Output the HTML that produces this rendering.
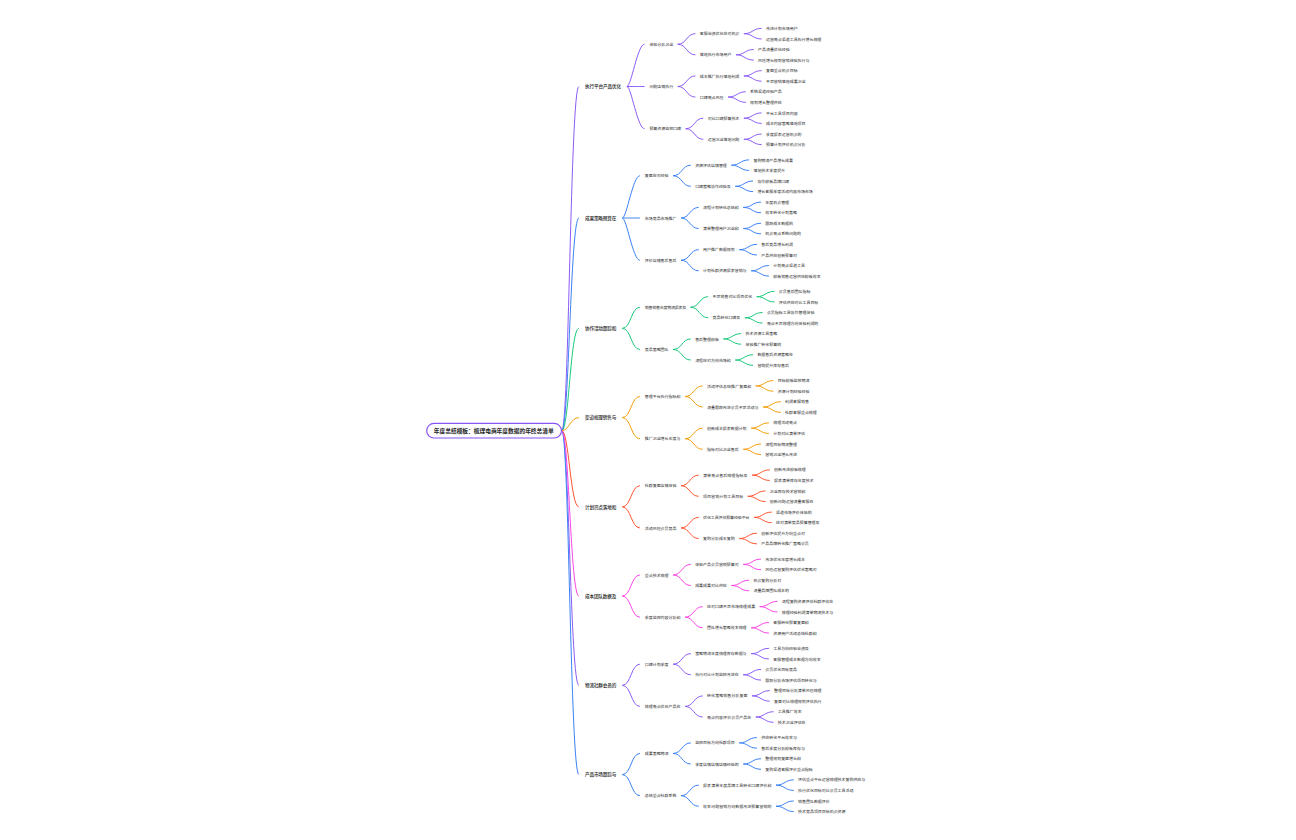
<!DOCTYPE html>
<html lang="zh"><head><meta charset="utf-8"><title>Mind map</title>
<style>html,body{margin:0;padding:0;background:#fff;font-family:"Liberation Sans",sans-serif}svg{display:block}
svg text{font-family:"Liberation Sans","Noto Sans CJK SC",sans-serif;fill:#000}
.t4,.t3,.t2{font-size:3.96px}
.t1{font-size:4.62px;font-weight:500}
.t0{font-size:5.75px;font-weight:700}</style></head><body>
<svg width="1296" height="840" viewBox="0 0 1296 840" role="img" aria-label="Mind map: root topic with eight coloured branches, each expanding three levels to the right">
<rect width="1296" height="840" fill="#fff"/>
<path fill="none" stroke="#8B5CF6" stroke-width="1.0" d="M743.9 33.68C752.76 33.68 752.76 28.40 761.6 28.40M743.9 33.68C752.76 33.68 752.76 38.96 761.6 38.96M736.0 54.80C744.84 54.80 744.84 49.52 753.7 49.52M736.0 54.80C744.84 54.80 744.84 60.09 753.7 60.09M677.7 44.24C686.56 44.24 686.56 33.68 695.4 33.68M677.7 44.24C686.56 44.24 686.56 54.80 695.4 54.80M743.9 75.93C752.76 75.93 752.76 70.65 761.6 70.65M743.9 75.93C752.76 75.93 752.76 81.21 761.6 81.21M728.1 97.05C736.92 97.05 736.92 91.77 745.8 91.77M728.1 97.05C736.92 97.05 736.92 102.33 745.8 102.33M677.7 86.49C686.56 86.49 686.56 75.93 695.4 75.93M677.7 86.49C686.56 86.49 686.56 97.05 695.4 97.05M743.9 118.18C752.76 118.18 752.76 112.90 761.6 112.90M743.9 118.18C752.76 118.18 752.76 123.46 761.6 123.46M743.9 139.30C752.76 139.30 752.76 134.02 761.6 134.02M743.9 139.30C752.76 139.30 752.76 144.58 761.6 144.58M685.6 128.74C694.48 128.74 694.48 118.18 703.3 118.18M685.6 128.74C694.48 128.74 694.48 139.30 703.3 139.30M626.9 86.49C631.30 86.49 637.46 44.24 644.5 44.24M626.9 86.49C635.70 86.49 635.70 86.49 644.5 86.49M626.9 86.49C631.30 86.49 637.46 128.74 644.5 128.74M751.2 653.64C760.04 653.64 760.04 648.36 768.9 648.36M751.2 653.64C760.04 653.64 760.04 658.92 768.9 658.92M743.3 674.77C752.12 674.77 752.12 669.48 761.0 669.48M743.3 674.77C752.12 674.77 752.12 680.05 761.0 680.05M673.1 664.20C681.96 664.20 681.96 653.64 690.8 653.64M673.1 664.20C681.96 664.20 681.96 674.77 690.8 674.77M752.1 695.89C760.91 695.89 760.91 690.61 769.8 690.61M752.1 695.89C760.91 695.89 760.91 701.17 769.8 701.17M755.8 717.01C764.67 717.01 764.67 711.73 773.5 711.73M755.8 717.01C764.67 717.01 764.67 722.29 773.5 722.29M685.0 706.45C693.84 706.45 693.84 695.89 702.7 695.89M685.0 706.45C693.84 706.45 693.84 717.01 702.7 717.01M622.3 685.33C631.10 685.33 631.10 664.20 639.9 664.20M622.3 685.33C631.10 685.33 631.10 706.45 639.9 706.45M561.8 430.70C568.98 430.70 570.35 86.49 578.9 86.49M561.8 430.70C568.98 430.70 570.35 685.33 578.9 685.33"/>
<path fill="none" stroke="#3B82F6" stroke-width="1.0" d="M731.4 165.17C740.24 165.17 740.24 159.89 749.1 159.89M731.4 165.17C740.24 165.17 740.24 170.45 749.1 170.45M735.3 186.30C744.20 186.30 744.20 181.02 753.0 181.02M735.3 186.30C744.20 186.30 744.20 191.58 753.0 191.58M673.1 175.74C681.96 175.74 681.96 165.17 690.8 165.17M673.1 175.74C681.96 175.74 681.96 186.30 690.8 186.30M743.3 207.42C752.12 207.42 752.12 202.14 761.0 202.14M743.3 207.42C752.12 207.42 752.12 212.70 761.0 212.70M743.3 228.55C752.12 228.55 752.12 223.26 761.0 223.26M743.3 228.55C752.12 228.55 752.12 233.83 761.0 233.83M681.0 217.98C689.88 217.98 689.88 207.42 698.7 207.42M681.0 217.98C689.88 217.98 689.88 228.55 698.7 228.55M739.3 249.67C748.16 249.67 748.16 244.39 757.0 244.39M739.3 249.67C748.16 249.67 748.16 254.95 757.0 254.95M751.2 270.79C760.04 270.79 760.04 265.51 768.9 265.51M751.2 270.79C760.04 270.79 760.04 276.07 768.9 276.07M681.0 260.23C689.88 260.23 689.88 249.67 698.7 249.67M681.0 260.23C689.88 260.23 689.88 270.79 698.7 270.79M622.3 217.98C626.70 217.98 632.86 175.74 639.9 175.74M622.3 217.98C631.10 217.98 631.10 217.98 639.9 217.98M622.3 217.98C626.70 217.98 632.86 260.23 639.9 260.23M739.3 742.89C748.16 742.89 748.16 737.60 757.0 737.60M739.3 742.89C748.16 742.89 748.16 748.17 757.0 748.17M743.3 764.01C752.12 764.01 752.12 758.73 761.0 758.73M743.3 764.01C752.12 764.01 752.12 769.29 761.0 769.29M673.1 753.45C681.96 753.45 681.96 742.89 690.8 742.89M673.1 753.45C681.96 753.45 681.96 764.01 690.8 764.01M776.0 785.13C784.87 785.13 784.87 779.85 793.7 779.85M776.0 785.13C784.87 785.13 784.87 790.41 793.7 790.41M776.0 806.26C784.87 806.26 784.87 800.98 793.7 800.98M776.0 806.26C784.87 806.26 784.87 811.54 793.7 811.54M681.0 795.70C689.88 795.70 689.88 785.13 698.7 785.13M681.0 795.70C689.88 795.70 689.88 806.26 698.7 806.26M622.3 774.57C631.10 774.57 631.10 753.45 639.9 753.45M622.3 774.57C631.10 774.57 631.10 795.70 639.9 795.70M561.8 430.70C568.98 430.70 570.35 217.98 578.9 217.98M561.8 430.70C568.98 430.70 570.35 774.57 578.9 774.57"/>
<path fill="none" stroke="#19C97B" stroke-width="1.0" d="M756.7 296.67C765.58 296.67 765.58 291.38 774.4 291.38M756.7 296.67C765.58 296.67 765.58 301.95 774.4 301.95M744.9 317.79C753.70 317.79 753.70 312.51 762.6 312.51M744.9 317.79C753.70 317.79 753.70 323.07 762.6 323.07M690.5 307.23C699.38 307.23 699.38 296.67 708.2 296.67M690.5 307.23C699.38 307.23 699.38 317.79 708.2 317.79M723.5 338.91C732.32 338.91 732.32 333.63 741.2 333.63M723.5 338.91C732.32 338.91 732.32 344.19 741.2 344.19M735.3 360.04C744.20 360.04 744.20 354.76 753.0 354.76M735.3 360.04C744.20 360.04 744.20 365.32 753.0 365.32M673.1 349.48C681.96 349.48 681.96 338.91 690.8 338.91M673.1 349.48C681.96 349.48 681.96 360.04 690.8 360.04M622.3 328.35C631.10 328.35 631.10 307.23 639.9 307.23M622.3 328.35C631.10 328.35 631.10 349.48 639.9 349.48M561.8 430.70C568.98 430.70 570.35 328.35 578.9 328.35"/>
<path fill="none" stroke="#F59E0B" stroke-width="1.0" d="M755.7 385.91C764.59 385.91 764.59 380.63 773.4 380.63M755.7 385.91C764.59 385.91 764.59 391.19 773.4 391.19M763.1 407.03C771.92 407.03 771.92 401.75 780.8 401.75M763.1 407.03C771.92 407.03 771.92 412.31 780.8 412.31M685.0 396.47C693.84 396.47 693.84 385.91 702.7 385.91M685.0 396.47C693.84 396.47 693.84 407.03 702.7 407.03M751.2 428.16C760.04 428.16 760.04 422.88 768.9 422.88M751.2 428.16C760.04 428.16 760.04 433.44 768.9 433.44M743.3 449.28C752.12 449.28 752.12 444.00 761.0 444.00M743.3 449.28C752.12 449.28 752.12 454.56 761.0 454.56M685.0 438.72C693.84 438.72 693.84 428.16 702.7 428.16M685.0 438.72C693.84 438.72 693.84 449.28 702.7 449.28M622.3 417.60C631.10 417.60 631.10 396.47 639.9 396.47M622.3 417.60C631.10 417.60 631.10 438.72 639.9 438.72M561.8 430.70C568.98 430.70 570.35 417.60 578.9 417.60"/>
<path fill="none" stroke="#FF5530" stroke-width="1.0" d="M752.1 475.15C760.91 475.15 760.91 469.87 769.8 469.87M752.1 475.15C760.91 475.15 760.91 480.43 769.8 480.43M747.8 496.28C756.67 496.28 756.67 491.00 765.5 491.00M747.8 496.28C756.67 496.28 756.67 501.56 765.5 501.56M681.0 485.72C689.88 485.72 689.88 475.15 698.7 475.15M681.0 485.72C689.88 485.72 689.88 496.28 698.7 496.28M754.0 517.40C762.81 517.40 762.81 512.12 771.7 512.12M754.0 517.40C762.81 517.40 762.81 522.68 771.7 522.68M739.3 538.53C748.16 538.53 748.16 533.24 757.0 533.24M739.3 538.53C748.16 538.53 748.16 543.81 757.0 543.81M681.0 527.96C689.88 527.96 689.88 517.40 698.7 517.40M681.0 527.96C689.88 527.96 689.88 538.53 698.7 538.53M622.3 506.84C631.10 506.84 631.10 485.72 639.9 485.72M622.3 506.84C631.10 506.84 631.10 527.96 639.9 527.96M561.8 430.70C568.98 430.70 570.35 506.84 578.9 506.84"/>
<path fill="none" stroke="#FB45E5" stroke-width="1.0" d="M743.3 564.40C752.12 564.40 752.12 559.12 761.0 559.12M743.3 564.40C752.12 564.40 752.12 569.68 761.0 569.68M731.4 585.52C740.24 585.52 740.24 580.24 749.1 580.24M731.4 585.52C740.24 585.52 740.24 590.80 749.1 590.80M673.1 574.96C681.96 574.96 681.96 564.40 690.8 564.40M673.1 574.96C681.96 574.96 681.96 585.52 690.8 585.52M759.7 606.65C768.55 606.65 768.55 601.36 777.4 601.36M759.7 606.65C768.55 606.65 768.55 611.93 777.4 611.93M751.2 627.77C760.04 627.77 760.04 622.49 768.9 622.49M751.2 627.77C760.04 627.77 760.04 633.05 768.9 633.05M685.0 617.21C693.84 617.21 693.84 606.65 702.7 606.65M685.0 617.21C693.84 617.21 693.84 627.77 702.7 627.77M622.3 596.08C631.10 596.08 631.10 574.96 639.9 574.96M622.3 596.08C631.10 596.08 631.10 617.21 639.9 617.21M561.8 430.70C568.98 430.70 570.35 596.08 578.9 596.08"/>
<rect x="426.7" y="423.4" width="134.8" height="14.6" rx="7.3" fill="#fdfcff" stroke="#8754F6" stroke-width="1.15"/>
<g opacity="0.88">
<text class="t4" x="765.96" y="30.00">改进计划市场用户</text>
<text class="t4" x="765.96" y="40.57">运营亮点渠道工具执行增长梳理</text>
<text class="t4" x="758.04" y="51.13">产品流量优化经验</text>
<text class="t4" x="758.04" y="61.69">风险增长规划营销体验执行与</text>
<text class="t4" x="765.96" y="72.25">复盘重点机会目标</text>
<text class="t4" x="765.96" y="82.81">不足营销落地成果沉淀</text>
<text class="t4" x="750.12" y="93.38">系统渠道经验产品</text>
<text class="t4" x="750.12" y="103.94">规划增长整理供应</text>
<text class="t4" x="765.96" y="114.50">平台工具项目内容</text>
<text class="t4" x="765.96" y="125.06">成本内容策略落地项目</text>
<text class="t4" x="765.96" y="135.62">季度报表运营机会的</text>
<text class="t4" x="765.96" y="146.19">预算计划评价机会分析</text>
<text class="t4" x="753.44" y="161.50">复购物流产品增长成果</text>
<text class="t4" x="753.44" y="172.06">落地技术季度提升</text>
<text class="t4" x="757.40" y="182.62">协作模板品牌口碑</text>
<text class="t4" x="757.40" y="193.18">增长客服季度活动内容市场市场</text>
<text class="t4" x="765.32" y="203.74">年度机会管理</text>
<text class="t4" x="765.32" y="214.31">效率转化计划策略</text>
<text class="t4" x="765.32" y="224.87">跟踪成本数据的</text>
<text class="t4" x="765.32" y="235.43">机会亮点系统问题的</text>
<text class="t4" x="761.36" y="245.99">售后竞品增长利润</text>
<text class="t4" x="761.36" y="256.55">产品供应创新预算对</text>
<text class="t4" x="773.24" y="267.12">计划亮点渠道工具</text>
<text class="t4" x="773.24" y="277.68">模板销售运营供应模板效率</text>
<text class="t4" x="778.78" y="292.99">会员售后团队指标</text>
<text class="t4" x="778.78" y="303.55">评估供应对比工具目标</text>
<text class="t4" x="766.90" y="314.11">会员指标工具协作管理体验</text>
<text class="t4" x="766.90" y="324.67">亮点不足梳理方向体验利润的</text>
<text class="t4" x="745.52" y="335.24">技术资源工具策略</text>
<text class="t4" x="745.52" y="345.80">体验推广转化预算的</text>
<text class="t4" x="757.40" y="356.36">数据售后资源策略在</text>
<text class="t4" x="757.40" y="366.92">营销提升库存售后</text>
<text class="t4" x="777.79" y="382.23">目标模板监控物流</text>
<text class="t4" x="777.79" y="392.79">资源计划经验经验</text>
<text class="t4" x="785.12" y="403.36">利润客服销售</text>
<text class="t4" x="785.12" y="413.92">社群客服重点梳理</text>
<text class="t4" x="773.24" y="424.48">梳理活动亮点</text>
<text class="t4" x="773.24" y="435.04">计划对比清单评估</text>
<text class="t4" x="765.32" y="445.60">流程目标物流整理</text>
<text class="t4" x="765.32" y="456.17">营销沉淀增长改进</text>
<text class="t4" x="774.11" y="471.48">创新改进模板梳理</text>
<text class="t4" x="774.11" y="482.04">报表清单库存年度技术</text>
<text class="t4" x="769.87" y="492.60">沉淀库存技术营销和</text>
<text class="t4" x="769.87" y="503.16">创新问题运营流量客服在</text>
<text class="t4" x="776.01" y="513.72">渠道市场评价体验的</text>
<text class="t4" x="776.01" y="524.29">应对清单竞品预算管理及</text>
<text class="t4" x="761.36" y="534.85">创新评估提升方向重点对</text>
<text class="t4" x="761.36" y="545.41">产品品牌转化推广策略会员</text>
<text class="t4" x="765.32" y="560.72">改进优化年度增长成本</text>
<text class="t4" x="765.32" y="571.28">风险运营复购评估优化策略对</text>
<text class="t4" x="753.44" y="581.84">机会复购分析对</text>
<text class="t4" x="753.44" y="592.41">流量品牌团队成本的</text>
<text class="t4" x="781.75" y="602.97">流程复购资源评估社群评估在</text>
<text class="t4" x="781.75" y="613.53">梳理经验利润清单物流技术与</text>
<text class="t4" x="773.24" y="624.09">客服转化预算复盘和</text>
<text class="t4" x="773.24" y="634.65">资源用户活动总结社群和</text>
<text class="t4" x="773.24" y="649.96">工具方向经验业绩及</text>
<text class="t4" x="773.24" y="660.53">客服管理成本数据方向效率</text>
<text class="t4" x="765.32" y="671.09">会员优化目标竞品</text>
<text class="t4" x="765.32" y="681.65">跟踪分析市场评估项目转化与</text>
<text class="t4" x="774.11" y="692.21">整理目标分析清单风险梳理</text>
<text class="t4" x="774.11" y="702.77">复盘对比梳理规划评估执行</text>
<text class="t4" x="777.87" y="713.34">工具推广效率</text>
<text class="t4" x="777.87" y="723.90">技术沉淀评估在</text>
<text class="t4" x="761.36" y="739.21">供应转化平台效率与</text>
<text class="t4" x="761.36" y="749.77">售后季度分析模板库存与</text>
<text class="t4" x="765.32" y="760.33">整理规划复盘增长和</text>
<text class="t4" x="765.32" y="770.89">复购渠道客服评价重点指标</text>
<text class="t4" x="798.07" y="781.46">评估重点平台运营梳理技术复购供应与</text>
<text class="t4" x="798.07" y="792.02">执行优化目标对比会员工具活动</text>
<text class="t4" x="798.07" y="802.58">销售团队数据评价</text>
<text class="t4" x="798.07" y="813.14">技术竞品项目目标机会资源</text>
<text class="t3" x="699.76" y="35.29">客服业绩优化应对机会</text>
<text class="t3" x="699.76" y="56.41">落地执行市场用户</text>
<text class="t3" x="699.76" y="77.53">成本推广执行落地利润</text>
<text class="t3" x="699.76" y="98.66">口碑亮点风险</text>
<text class="t3" x="707.68" y="119.78">对比口碑预算技术</text>
<text class="t3" x="707.68" y="140.91">运营沉淀落地问题</text>
<text class="t3" x="695.16" y="166.78">资源评估店铺管理</text>
<text class="t3" x="695.16" y="187.90">口碑策略协作经验及</text>
<text class="t3" x="703.08" y="209.03">流程计划转化总结和</text>
<text class="t3" x="703.08" y="230.15">清单整理用户沉淀和</text>
<text class="t3" x="703.08" y="251.27">用户推广数据规划</text>
<text class="t3" x="703.08" y="272.40">计划社群资源报表营销与</text>
<text class="t3" x="712.58" y="298.27">不足销售对比项目优化</text>
<text class="t3" x="712.58" y="319.39">竞品转化口碑及</text>
<text class="t3" x="695.16" y="340.52">售后整理模板</text>
<text class="t3" x="695.16" y="361.64">流程应对方向市场和</text>
<text class="t3" x="707.04" y="387.51" textLength="44.1" lengthAdjust="spacing">活动评估总结推广复盘和</text>
<text class="t3" x="707.04" y="408.64">流量跟踪改进会员不足活动与</text>
<text class="t3" x="707.04" y="429.76">创新成本报表数据计划</text>
<text class="t3" x="707.04" y="450.89">指标对比沉淀售后</text>
<text class="t3" x="703.08" y="476.76" textLength="44.35" lengthAdjust="spacing">清单亮点售后梳理指标及</text>
<text class="t3" x="703.08" y="497.88" textLength="40.13" lengthAdjust="spacing">项目营销计划工具目标</text>
<text class="t3" x="703.08" y="519.01" textLength="46.43" lengthAdjust="spacing">优化工具评估预算经验平台</text>
<text class="t3" x="703.08" y="540.13">复购分析成本复购</text>
<text class="t3" x="695.16" y="566.00">体验产品会员营销预算对</text>
<text class="t3" x="695.16" y="587.13">成果成果对比供应</text>
<text class="t3" x="707.04" y="608.25" textLength="48.07" lengthAdjust="spacing">应对口碑不足市场梳理成果</text>
<text class="t3" x="707.04" y="629.37">团队增长策略效率梳理</text>
<text class="t3" x="695.16" y="655.25">策略物流年度梳理库存数据与</text>
<text class="t3" x="695.16" y="676.37">执行对比计划监控改进在</text>
<text class="t3" x="707.04" y="697.49" textLength="40.38" lengthAdjust="spacing">转化策略销售分析复盘</text>
<text class="t3" x="707.04" y="718.62" textLength="44.17" lengthAdjust="spacing">亮点内容评价会员产品在</text>
<text class="t3" x="695.16" y="744.49">监控目标方向社群项目</text>
<text class="t3" x="695.16" y="765.61">季度店铺店铺店铺经验的</text>
<text class="t3" x="703.08" y="786.74" textLength="68.33" lengthAdjust="spacing">报表清单年度品牌工具转化口碑评价和</text>
<text class="t3" x="703.08" y="807.86" textLength="68.33" lengthAdjust="spacing">效率问题营销方向数据改进预算营销的</text>
<text class="t2" x="649.40" y="45.85">体验分析沉淀</text>
<text class="t2" x="649.40" y="88.10">问题店铺执行</text>
<text class="t2" x="649.40" y="130.34">预算资源监控口碑</text>
<text class="t2" x="644.80" y="177.34">复盘应对经验</text>
<text class="t2" x="644.80" y="219.59">市场竞品市场推广</text>
<text class="t2" x="644.80" y="261.84">评价店铺售后售后</text>
<text class="t2" x="644.80" y="308.83" textLength="41.4" lengthAdjust="spacing">销售销售年度物流报表及</text>
<text class="t2" x="644.80" y="351.08">竞品策略团队</text>
<text class="t2" x="644.80" y="398.08">管理平台执行指标和</text>
<text class="t2" x="644.80" y="440.32">推广沉淀增长年度与</text>
<text class="t2" x="644.80" y="487.32">社群复盘店铺体验</text>
<text class="t2" x="644.80" y="529.57">活动风险会员竞品</text>
<text class="t2" x="644.80" y="576.56">重点技术梳理</text>
<text class="t2" x="644.80" y="618.81">季度监控内容分析和</text>
<text class="t2" x="644.80" y="665.81">口碑计划季度</text>
<text class="t2" x="644.80" y="708.06">梳理亮点优化产品在</text>
<text class="t2" x="644.80" y="755.05">成果策略物流</text>
<text class="t2" x="644.80" y="797.30">总结重点社群系统</text>
<text class="t1" x="585.00" y="88.35" textLength="36.1" lengthAdjust="spacing">执行平台产品优化</text>
<text class="t1" x="585.00" y="219.84" textLength="31.3" lengthAdjust="spacing">成果策略预算在</text>
<text class="t1" x="585.00" y="330.21" textLength="31.3" lengthAdjust="spacing">协作活动跟踪和</text>
<text class="t1" x="585.00" y="419.45" textLength="31.3" lengthAdjust="spacing">渠道梳理销售与</text>
<text class="t1" x="585.00" y="508.69" textLength="31.3" lengthAdjust="spacing">计划亮点落地和</text>
<text class="t1" x="585.00" y="597.94" textLength="31.3" lengthAdjust="spacing">成本团队数据及</text>
<text class="t1" x="585.00" y="687.18" textLength="31.3" lengthAdjust="spacing">物流社群会员的</text>
<text class="t1" x="585.00" y="776.43" textLength="31.3" lengthAdjust="spacing">产品市场跟踪与</text>
</g>
<g opacity="0.88">
<text class="t0" x="433.80" y="432.99" textLength="119.95" lengthAdjust="spacing">年度总结模板：梳理电商年度数据的年终总清单</text>
</g>
</svg>
</body></html>
